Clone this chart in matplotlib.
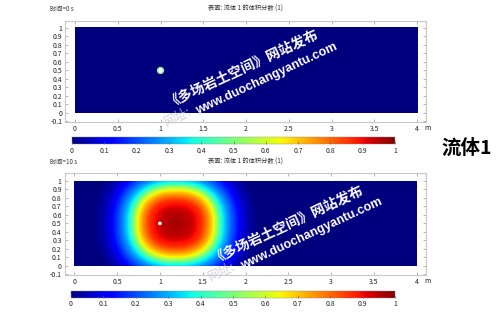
import numpy as np
import matplotlib.pyplot as plt
from matplotlib.patches import Circle

plt.rcParams['font.family'] = ['Noto Sans CJK SC', 'DejaVu Sans']

# values
times = ["时间=0 s", "时间=10 s"]
plot_title = "表面: 流体 1 的体积分数 (1)"
x_ticks = [0, 0.5, 1, 1.5, 2, 2.5, 3, 3.5, 4]
x_labels = ["0", "0.5", "1", "1.5", "2", "2.5", "3", "3.5", "4"]
y_ticks = [-0.1, 0, 0.1, 0.2, 0.3, 0.4, 0.5, 0.6, 0.7, 0.8, 0.9, 1]
y_labels = ["-0.1", "0", "0.1", "0.2", "0.3", "0.4", "0.5", "0.6", "0.7", "0.8", "0.9", "1"]
cb_ticks = [0, 0.1, 0.2, 0.3, 0.4, 0.5, 0.6, 0.7, 0.8, 0.9, 1]
cb_labels = ["0", "0.1", "0.2", "0.3", "0.4", "0.5", "0.6", "0.7", "0.8", "0.9", "1"]

# droplet at t=0 and spread blob at t=10 s
drop_center = (1.0, 0.5)
drop_radius = 0.035
blob_center = (1.185, 0.5)
blob_radii = (0.435, 0.39)
blob_r = [0.0, 0.4, 0.7, 0.9, 1.0, 1.1, 1.22, 1.38, 1.54, 1.75, 1.9, 2.2]
blob_v = [0.97, 0.94, 0.86, 0.74, 0.66, 0.55, 0.4, 0.28, 0.2, 0.1, 0.05, 0.0]

W, H = 500, 312


def px(x0, y0, x1, y1):
    return [x0 / W, 1 - y1 / H, (x1 - x0) / W, (y1 - y0) / H]


xs = np.linspace(0, 4, 481)
ys = np.linspace(0, 1, 121)
X, Y = np.meshgrid(xs, ys)
field0 = np.zeros_like(X)
R = (np.abs((X - blob_center[0]) / blob_radii[0]) ** 2.4
     + np.abs((Y - blob_center[1]) / blob_radii[1]) ** 2.4) ** (1 / 2.4)
field1 = np.interp(R, blob_r, blob_v)

fig = plt.figure(figsize=(5, 3.12), dpi=100)

panels = [
    dict(frame=(65, 21, 426, 122), xlim=(-0.117, 4.105), ylim=(-0.106, 1.082),
         cbar=(72, 137, 395, 144), title_y=9, field=field0),
    dict(frame=(64.5, 173, 426, 275), xlim=(-0.114, 4.108), ylim=(-0.106, 1.094),
         cbar=(71, 291, 395, 297.5), title_y=162, field=field1),
]

for i, p in enumerate(panels):
    ax = fig.add_axes(px(*p['frame']))
    im = ax.imshow(p['field'], extent=[0, 4, 0, 1], origin='lower', cmap='jet',
                   vmin=0, vmax=1, aspect='auto', interpolation='bilinear')
    ax.set_xlim(*p['xlim'])
    ax.set_ylim(*p['ylim'])
    ax.set_xticks(x_ticks)
    ax.set_xticklabels(x_labels)
    ax.set_yticks(y_ticks)
    ax.set_yticklabels(y_labels)
    ax.tick_params(direction='in', length=2.5, width=0.5, color='#999999',
                   labelsize=5, pad=2, top=True, right=True, labelcolor='#222222')
    for s in ax.spines.values():
        s.set_color('#c8c8c8')
        s.set_linewidth(0.8)
    if i == 0:
        ax.add_patch(Circle(drop_center, drop_radius, facecolor='white',
                            edgecolor='#80e8a0', linewidth=1.0, zorder=3))
    else:
        ax.add_patch(Circle(drop_center, 0.022, facecolor='white',
                            edgecolor='none', zorder=3))
    fig.text((p['frame'][2] - 2) / W, 1 - (p['frame'][3] + 6) / H, "m",
             fontsize=5, ha='left', va='center', color='#222222')

    cax = fig.add_axes(px(*p['cbar']))
    cb = fig.colorbar(im, cax=cax, orientation='horizontal', ticks=cb_ticks)
    cb.set_ticklabels(cb_labels)
    cb.outline.set_linewidth(0.3)
    cb.outline.set_edgecolor('#888888')
    cax.tick_params(direction='in', length=2, width=0.4, color='#555555',
                    labelsize=5, pad=2, labelcolor='#222222')

    fig.text(50 / W, 1 - p['title_y'] / H, times[i], fontsize=4.5,
             ha='left', va='center', color='#333333')
    fig.text(245 / W, 1 - p['title_y'] / H, plot_title, fontsize=4.5,
             ha='center', va='center', color='#333333')

fig.text(467 / W, 1 - 148 / H, "流体1", fontsize=14, fontweight='bold',
         ha='center', va='center', color='black')

# watermark
marks = [((242, 66), (267, 79), (178, 117)), ((287, 222), (312, 234), (222, 272))]
for l1, l2, l3 in marks:
    fig.text(l1[0] / W, 1 - l1[1] / H, "《多场岩土空间》网站发布", fontsize=10,
             fontweight='bold', color='white', rotation=25, rotation_mode='anchor',
             ha='center', va='center')
    fig.text(l2[0] / W, 1 - l2[1] / H, "www.duochangyantu.com", fontsize=9,
             fontweight='bold', color='white', rotation=25, rotation_mode='anchor',
             ha='center', va='center', family=['Liberation Sans'])
    fig.text(l3[0] / W, 1 - l3[1] / H, "网址:", fontsize=9, color='#c8c8d8',
             alpha=0.8, rotation=25, rotation_mode='anchor', ha='center', va='center')

fig.savefig('out.png', dpi=100)
